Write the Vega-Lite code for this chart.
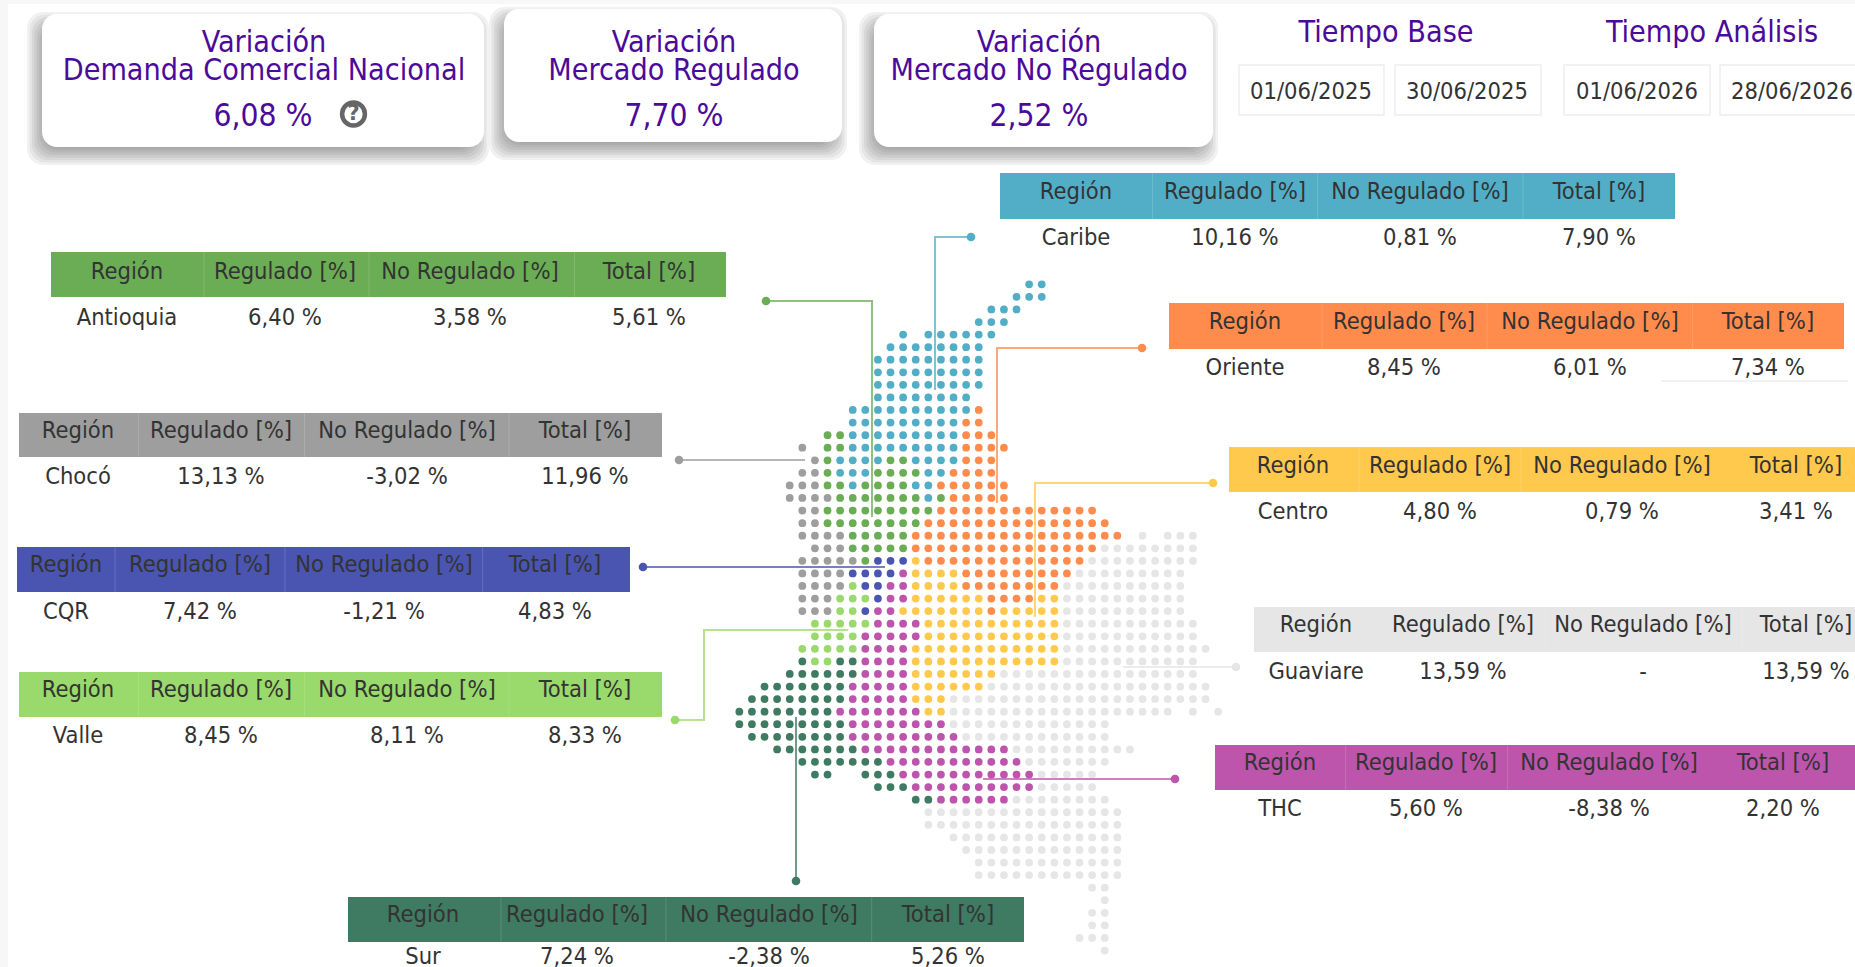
{"$schema":"https://vega.github.io/schema/vega-lite/v6.json","width":1855,"height":967,"padding":0,"autosize":{"type":"none"},"background":"#ffffff","view":{"stroke":null},
"datasets":{
"blocks":[{"x":0,"x2":8,"y":0,"y2":967},{"x":0,"x2":1855,"y":0,"y2":4}],
"shadows":[{"x":27,"x2":489,"y":12,"y2":165},{"x":29.5,"x2":486.5,"y":14.5,"y2":162.5},{"x":32,"x2":484,"y":17,"y2":160},{"x":34.5,"x2":481.5,"y":19.5,"y2":157.5},{"x":37,"x2":479,"y":22,"y2":155},{"x":39.5,"x2":476.5,"y":24.5,"y2":152.5},{"x":42,"x2":474,"y":27,"y2":150},{"x":44.5,"x2":471.5,"y":29.5,"y2":147.5},{"x":489,"x2":847,"y":7,"y2":160},{"x":491.5,"x2":844.5,"y":9.5,"y2":157.5},{"x":494,"x2":842,"y":12,"y2":155},{"x":496.5,"x2":839.5,"y":14.5,"y2":152.5},{"x":499,"x2":837,"y":17,"y2":150},{"x":501.5,"x2":834.5,"y":19.5,"y2":147.5},{"x":504,"x2":832,"y":22,"y2":145},{"x":506.5,"x2":829.5,"y":24.5,"y2":142.5},{"x":859,"x2":1218,"y":12,"y2":165},{"x":861.5,"x2":1215.5,"y":14.5,"y2":162.5},{"x":864,"x2":1213,"y":17,"y2":160},{"x":866.5,"x2":1210.5,"y":19.5,"y2":157.5},{"x":869,"x2":1208,"y":22,"y2":155},{"x":871.5,"x2":1205.5,"y":24.5,"y2":152.5},{"x":874,"x2":1203,"y":27,"y2":150},{"x":876.5,"x2":1200.5,"y":29.5,"y2":147.5}],
"cards":[{"x":42,"x2":484,"y":14,"y2":147},{"x":504,"x2":842,"y":9,"y2":142},{"x":874,"x2":1213,"y":14,"y2":147}],
"dateBoxes":[{"x":1239,"x2":1384,"y":65,"y2":115},{"x":1395,"x2":1541,"y":65,"y2":115},{"x":1564,"x2":1710,"y":65,"y2":115},{"x":1720,"x2":1858,"y":65,"y2":115}],
"headers":[{"region":"Caribe","x":1000,"x2":1675,"y":173,"y2":219},{"region":"Antioquia","x":51,"x2":726,"y":252,"y2":297},{"region":"Oriente","x":1169,"x2":1844,"y":303,"y2":349},{"region":"Chocó","x":19,"x2":662,"y":413,"y2":457},{"region":"CQR","x":17,"x2":630,"y":547,"y2":592},{"region":"Valle","x":19,"x2":662,"y":672,"y2":717},{"region":"Centro","x":1229,"x2":1855,"y":447,"y2":492},{"region":"Guaviare","x":1254,"x2":1855,"y":607,"y2":652},{"region":"THC","x":1215,"x2":1855,"y":745,"y2":790},{"region":"Sur","x":348,"x2":1024,"y":897,"y2":942}],
"separators":[{"x":1152.5,"y":173,"y2":219},{"x":1317.5,"y":173,"y2":219},{"x":1523,"y":173,"y2":219},{"x":204,"y":252,"y2":297},{"x":369,"y":252,"y2":297},{"x":574.5,"y":252,"y2":297},{"x":1322,"y":303,"y2":349},{"x":1487,"y":303,"y2":349},{"x":1692.5,"y":303,"y2":349},{"x":138.4,"y":413,"y2":457},{"x":304.5,"y":413,"y2":457},{"x":509,"y":413,"y2":457},{"x":115,"y":547,"y2":592},{"x":285,"y":547,"y2":592},{"x":482.6,"y":547,"y2":592},{"x":138.4,"y":672,"y2":717},{"x":304.5,"y":672,"y2":717},{"x":509,"y":672,"y2":717},{"x":1359,"y":447,"y2":492},{"x":1521,"y":447,"y2":492},{"x":1381,"y":607,"y2":652},{"x":1545,"y":607,"y2":652},{"x":1741.7,"y":607,"y2":652},{"x":1345.6,"y":745,"y2":790},{"x":1507.6,"y":745,"y2":790},{"x":501,"y":897,"y2":942},{"x":666,"y":897,"y2":942},{"x":871.7,"y":897,"y2":942}],
"leaders":[{"region":"Caribe","i":0,"x":971,"y":237},{"region":"Caribe","i":1,"x":935,"y":237},{"region":"Caribe","i":2,"x":935,"y":390},{"region":"Antioquia","i":0,"x":766,"y":301},{"region":"Antioquia","i":1,"x":872,"y":301},{"region":"Antioquia","i":2,"x":872,"y":517},{"region":"Oriente","i":0,"x":1142,"y":348},{"region":"Oriente","i":1,"x":997,"y":348},{"region":"Oriente","i":2,"x":997,"y":503},{"region":"Centro","i":0,"x":1213,"y":483},{"region":"Centro","i":1,"x":1035,"y":483},{"region":"Centro","i":2,"x":1035,"y":617},{"region":"Chocó","i":0,"x":679,"y":460},{"region":"Chocó","i":1,"x":805,"y":460},{"region":"CQR","i":0,"x":643,"y":567},{"region":"CQR","i":1,"x":885,"y":567},{"region":"Valle","i":0,"x":675,"y":720},{"region":"Valle","i":1,"x":704,"y":720},{"region":"Valle","i":2,"x":704,"y":630},{"region":"Valle","i":3,"x":848,"y":630},{"region":"Guaviare","i":0,"x":1236,"y":667},{"region":"Guaviare","i":1,"x":1123,"y":667},{"region":"THC","i":0,"x":1175,"y":779},{"region":"THC","i":1,"x":983,"y":779},{"region":"Sur","i":0,"x":796,"y":881},{"region":"Sur","i":1,"x":796,"y":717}],
"cells":[
{"t":"Región","x":1076,"y":192},{"t":"Regulado [%]","x":1235,"y":192},{"t":"No Regulado [%]","x":1420,"y":192},{"t":"Total [%]","x":1599,"y":192},{"t":"Caribe","x":1076,"y":238},{"t":"10,16 %","x":1235,"y":238},{"t":"0,81 %","x":1420,"y":238},{"t":"7,90 %","x":1599,"y":238},
{"t":"Región","x":127,"y":272},{"t":"Regulado [%]","x":285,"y":272},{"t":"No Regulado [%]","x":470,"y":272},{"t":"Total [%]","x":649,"y":272},{"t":"Antioquia","x":127,"y":318},{"t":"6,40 %","x":285,"y":318},{"t":"3,58 %","x":470,"y":318},{"t":"5,61 %","x":649,"y":318},
{"t":"Región","x":1245,"y":322},{"t":"Regulado [%]","x":1404,"y":322},{"t":"No Regulado [%]","x":1590,"y":322},{"t":"Total [%]","x":1768,"y":322},{"t":"Oriente","x":1245,"y":368},{"t":"8,45 %","x":1404,"y":368},{"t":"6,01 %","x":1590,"y":368},{"t":"7,34 %","x":1768,"y":368},
{"t":"Región","x":78,"y":431},{"t":"Regulado [%]","x":221,"y":431},{"t":"No Regulado [%]","x":407,"y":431},{"t":"Total [%]","x":585,"y":431},{"t":"Chocó","x":78,"y":477},{"t":"13,13 %","x":221,"y":477},{"t":"-3,02 %","x":407,"y":477},{"t":"11,96 %","x":585,"y":477},
{"t":"Región","x":66,"y":565},{"t":"Regulado [%]","x":200,"y":565},{"t":"No Regulado [%]","x":384,"y":565},{"t":"Total [%]","x":555,"y":565},{"t":"CQR","x":66,"y":612},{"t":"7,42 %","x":200,"y":612},{"t":"-1,21 %","x":384,"y":612},{"t":"4,83 %","x":555,"y":612},
{"t":"Región","x":78,"y":690},{"t":"Regulado [%]","x":221,"y":690},{"t":"No Regulado [%]","x":407,"y":690},{"t":"Total [%]","x":585,"y":690},{"t":"Valle","x":78,"y":736},{"t":"8,45 %","x":221,"y":736},{"t":"8,11 %","x":407,"y":736},{"t":"8,33 %","x":585,"y":736},
{"t":"Región","x":1293,"y":466},{"t":"Regulado [%]","x":1440,"y":466},{"t":"No Regulado [%]","x":1622,"y":466},{"t":"Total [%]","x":1796,"y":466},{"t":"Centro","x":1293,"y":512},{"t":"4,80 %","x":1440,"y":512},{"t":"0,79 %","x":1622,"y":512},{"t":"3,41 %","x":1796,"y":512},
{"t":"Región","x":1316,"y":625},{"t":"Regulado [%]","x":1463,"y":625},{"t":"No Regulado [%]","x":1643,"y":625},{"t":"Total [%]","x":1806,"y":625},{"t":"Guaviare","x":1316,"y":672},{"t":"13,59 %","x":1463,"y":672},{"t":"-","x":1643,"y":672},{"t":"13,59 %","x":1806,"y":672},
{"t":"Región","x":1280,"y":763},{"t":"Regulado [%]","x":1426,"y":763},{"t":"No Regulado [%]","x":1609,"y":763},{"t":"Total [%]","x":1783,"y":763},{"t":"THC","x":1280,"y":809},{"t":"5,60 %","x":1426,"y":809},{"t":"-8,38 %","x":1609,"y":809},{"t":"2,20 %","x":1783,"y":809},
{"t":"Región","x":423,"y":915},{"t":"Regulado [%]","x":577,"y":915},{"t":"No Regulado [%]","x":769,"y":915},{"t":"Total [%]","x":948,"y":915},{"t":"Sur","x":423,"y":957},{"t":"7,24 %","x":577,"y":957},{"t":"-2,38 %","x":769,"y":957},{"t":"5,26 %","x":948,"y":957},
{"t":"01/06/2025","x":1311,"y":92},{"t":"30/06/2025","x":1467,"y":92},{"t":"01/06/2026","x":1637,"y":92},{"t":"28/06/2026","x":1792,"y":92}],
"purple":[{"t":"Variación","x":264,"y":43},{"t":"Demanda Comercial Nacional","x":264,"y":71},{"t":"Variación","x":674,"y":43},{"t":"Mercado Regulado","x":674,"y":71},{"t":"Variación","x":1039,"y":43},{"t":"Mercado No Regulado","x":1039,"y":71},{"t":"Tiempo Base","x":1386,"y":33},{"t":"Tiempo Análisis","x":1712,"y":33}],
"kpis":[{"t":"6,08 %","x":263,"y":117},{"t":"7,70 %","x":674,"y":117},{"t":"2,52 %","x":1039,"y":117}],
"dots":[
{"c":23,"r":0,"region":"Caribe"},{"c":24,"r":0,"region":"Caribe"},
{"c":22,"r":1,"region":"Caribe"},{"c":23,"r":1,"region":"Caribe"},{"c":24,"r":1,"region":"Caribe"},
{"c":20,"r":2,"region":"Caribe"},{"c":21,"r":2,"region":"Caribe"},{"c":22,"r":2,"region":"Caribe"},
{"c":19,"r":3,"region":"Caribe"},{"c":20,"r":3,"region":"Caribe"},{"c":21,"r":3,"region":"Caribe"},
{"c":13,"r":4,"region":"Caribe"},{"c":15,"r":4,"region":"Caribe"},{"c":16,"r":4,"region":"Caribe"},{"c":17,"r":4,"region":"Caribe"},{"c":18,"r":4,"region":"Caribe"},{"c":19,"r":4,"region":"Caribe"},{"c":20,"r":4,"region":"Caribe"},
{"c":12,"r":5,"region":"Caribe"},{"c":13,"r":5,"region":"Caribe"},{"c":14,"r":5,"region":"Caribe"},{"c":15,"r":5,"region":"Caribe"},{"c":16,"r":5,"region":"Caribe"},{"c":17,"r":5,"region":"Caribe"},{"c":18,"r":5,"region":"Caribe"},{"c":19,"r":5,"region":"Caribe"},
{"c":11,"r":6,"region":"Caribe"},{"c":12,"r":6,"region":"Caribe"},{"c":13,"r":6,"region":"Caribe"},{"c":14,"r":6,"region":"Caribe"},{"c":15,"r":6,"region":"Caribe"},{"c":16,"r":6,"region":"Caribe"},{"c":17,"r":6,"region":"Caribe"},{"c":18,"r":6,"region":"Caribe"},{"c":19,"r":6,"region":"Caribe"},
{"c":11,"r":7,"region":"Caribe"},{"c":12,"r":7,"region":"Caribe"},{"c":13,"r":7,"region":"Caribe"},{"c":14,"r":7,"region":"Caribe"},{"c":15,"r":7,"region":"Caribe"},{"c":16,"r":7,"region":"Caribe"},{"c":17,"r":7,"region":"Caribe"},{"c":18,"r":7,"region":"Caribe"},{"c":19,"r":7,"region":"Caribe"},
{"c":11,"r":8,"region":"Caribe"},{"c":12,"r":8,"region":"Caribe"},{"c":13,"r":8,"region":"Caribe"},{"c":14,"r":8,"region":"Caribe"},{"c":15,"r":8,"region":"Caribe"},{"c":16,"r":8,"region":"Caribe"},{"c":17,"r":8,"region":"Caribe"},{"c":18,"r":8,"region":"Caribe"},{"c":19,"r":8,"region":"Caribe"},
{"c":11,"r":9,"region":"Caribe"},{"c":12,"r":9,"region":"Caribe"},{"c":13,"r":9,"region":"Caribe"},{"c":14,"r":9,"region":"Caribe"},{"c":15,"r":9,"region":"Caribe"},{"c":16,"r":9,"region":"Caribe"},{"c":17,"r":9,"region":"Caribe"},{"c":18,"r":9,"region":"Caribe"},
{"c":9,"r":10,"region":"Caribe"},{"c":10,"r":10,"region":"Caribe"},{"c":11,"r":10,"region":"Caribe"},{"c":12,"r":10,"region":"Caribe"},{"c":13,"r":10,"region":"Caribe"},{"c":14,"r":10,"region":"Caribe"},{"c":15,"r":10,"region":"Caribe"},{"c":16,"r":10,"region":"Caribe"},{"c":17,"r":10,"region":"Caribe"},{"c":18,"r":10,"region":"Caribe"},{"c":19,"r":10,"region":"Oriente"},
{"c":9,"r":11,"region":"Caribe"},{"c":10,"r":11,"region":"Caribe"},{"c":11,"r":11,"region":"Caribe"},{"c":12,"r":11,"region":"Caribe"},{"c":13,"r":11,"region":"Caribe"},{"c":14,"r":11,"region":"Caribe"},{"c":15,"r":11,"region":"Caribe"},{"c":16,"r":11,"region":"Caribe"},{"c":17,"r":11,"region":"Caribe"},{"c":18,"r":11,"region":"Oriente"},{"c":19,"r":11,"region":"Oriente"},
{"c":7,"r":12,"region":"Antioquia"},{"c":8,"r":12,"region":"Antioquia"},{"c":9,"r":12,"region":"Caribe"},{"c":10,"r":12,"region":"Caribe"},{"c":11,"r":12,"region":"Caribe"},{"c":12,"r":12,"region":"Caribe"},{"c":13,"r":12,"region":"Caribe"},{"c":14,"r":12,"region":"Caribe"},{"c":15,"r":12,"region":"Caribe"},{"c":16,"r":12,"region":"Caribe"},{"c":17,"r":12,"region":"Caribe"},{"c":18,"r":12,"region":"Oriente"},{"c":19,"r":12,"region":"Oriente"},{"c":20,"r":12,"region":"Oriente"},
{"c":5,"r":13,"region":"Chocó"},{"c":7,"r":13,"region":"Antioquia"},{"c":8,"r":13,"region":"Antioquia"},{"c":9,"r":13,"region":"Caribe"},{"c":10,"r":13,"region":"Caribe"},{"c":11,"r":13,"region":"Caribe"},{"c":12,"r":13,"region":"Caribe"},{"c":13,"r":13,"region":"Caribe"},{"c":14,"r":13,"region":"Caribe"},{"c":15,"r":13,"region":"Caribe"},{"c":16,"r":13,"region":"Caribe"},{"c":17,"r":13,"region":"Caribe"},{"c":18,"r":13,"region":"Oriente"},{"c":19,"r":13,"region":"Oriente"},{"c":20,"r":13,"region":"Oriente"},{"c":21,"r":13,"region":"Oriente"},
{"c":6,"r":14,"region":"Chocó"},{"c":7,"r":14,"region":"Antioquia"},{"c":8,"r":14,"region":"Caribe"},{"c":9,"r":14,"region":"Caribe"},{"c":10,"r":14,"region":"Caribe"},{"c":11,"r":14,"region":"Caribe"},{"c":12,"r":14,"region":"Antioquia"},{"c":13,"r":14,"region":"Antioquia"},{"c":14,"r":14,"region":"Caribe"},{"c":15,"r":14,"region":"Caribe"},{"c":16,"r":14,"region":"Caribe"},{"c":17,"r":14,"region":"Caribe"},{"c":18,"r":14,"region":"Oriente"},{"c":19,"r":14,"region":"Oriente"},{"c":20,"r":14,"region":"Oriente"},
{"c":5,"r":15,"region":"Chocó"},{"c":6,"r":15,"region":"Chocó"},{"c":7,"r":15,"region":"Antioquia"},{"c":8,"r":15,"region":"Caribe"},{"c":9,"r":15,"region":"Caribe"},{"c":10,"r":15,"region":"Caribe"},{"c":11,"r":15,"region":"Antioquia"},{"c":12,"r":15,"region":"Antioquia"},{"c":13,"r":15,"region":"Antioquia"},{"c":14,"r":15,"region":"Antioquia"},{"c":15,"r":15,"region":"Caribe"},{"c":16,"r":15,"region":"Caribe"},{"c":17,"r":15,"region":"Oriente"},{"c":18,"r":15,"region":"Oriente"},{"c":19,"r":15,"region":"Oriente"},{"c":20,"r":15,"region":"Oriente"},
{"c":4,"r":16,"region":"Chocó"},{"c":5,"r":16,"region":"Chocó"},{"c":6,"r":16,"region":"Chocó"},{"c":7,"r":16,"region":"Antioquia"},{"c":8,"r":16,"region":"Antioquia"},{"c":9,"r":16,"region":"Caribe"},{"c":10,"r":16,"region":"Antioquia"},{"c":11,"r":16,"region":"Antioquia"},{"c":12,"r":16,"region":"Antioquia"},{"c":13,"r":16,"region":"Antioquia"},{"c":14,"r":16,"region":"Caribe"},{"c":15,"r":16,"region":"Caribe"},{"c":16,"r":16,"region":"Oriente"},{"c":17,"r":16,"region":"Oriente"},{"c":18,"r":16,"region":"Oriente"},{"c":19,"r":16,"region":"Oriente"},{"c":20,"r":16,"region":"Oriente"},{"c":21,"r":16,"region":"Oriente"},
{"c":4,"r":17,"region":"Chocó"},{"c":5,"r":17,"region":"Chocó"},{"c":6,"r":17,"region":"Chocó"},{"c":7,"r":17,"region":"Chocó"},{"c":8,"r":17,"region":"Antioquia"},{"c":9,"r":17,"region":"Antioquia"},{"c":10,"r":17,"region":"Antioquia"},{"c":11,"r":17,"region":"Antioquia"},{"c":12,"r":17,"region":"Antioquia"},{"c":13,"r":17,"region":"Antioquia"},{"c":14,"r":17,"region":"Antioquia"},{"c":15,"r":17,"region":"Caribe"},{"c":16,"r":17,"region":"Antioquia"},{"c":17,"r":17,"region":"Oriente"},{"c":18,"r":17,"region":"Oriente"},{"c":19,"r":17,"region":"Oriente"},{"c":20,"r":17,"region":"Oriente"},{"c":21,"r":17,"region":"Oriente"},
{"c":5,"r":18,"region":"Chocó"},{"c":6,"r":18,"region":"Chocó"},{"c":7,"r":18,"region":"Antioquia"},{"c":8,"r":18,"region":"Antioquia"},{"c":9,"r":18,"region":"Antioquia"},{"c":10,"r":18,"region":"Antioquia"},{"c":11,"r":18,"region":"Antioquia"},{"c":12,"r":18,"region":"Antioquia"},{"c":13,"r":18,"region":"Antioquia"},{"c":14,"r":18,"region":"Antioquia"},{"c":15,"r":18,"region":"Antioquia"},{"c":16,"r":18,"region":"Oriente"},{"c":17,"r":18,"region":"Oriente"},{"c":18,"r":18,"region":"Oriente"},{"c":19,"r":18,"region":"Oriente"},{"c":20,"r":18,"region":"Oriente"},{"c":21,"r":18,"region":"Oriente"},{"c":22,"r":18,"region":"Oriente"},{"c":23,"r":18,"region":"Oriente"},{"c":24,"r":18,"region":"Oriente"},{"c":25,"r":18,"region":"Oriente"},{"c":26,"r":18,"region":"Oriente"},{"c":27,"r":18,"region":"Oriente"},{"c":28,"r":18,"region":"Oriente"},
{"c":5,"r":19,"region":"Chocó"},{"c":6,"r":19,"region":"Chocó"},{"c":7,"r":19,"region":"Antioquia"},{"c":8,"r":19,"region":"Antioquia"},{"c":9,"r":19,"region":"Antioquia"},{"c":10,"r":19,"region":"Antioquia"},{"c":11,"r":19,"region":"Antioquia"},{"c":12,"r":19,"region":"Antioquia"},{"c":13,"r":19,"region":"Antioquia"},{"c":14,"r":19,"region":"Antioquia"},{"c":15,"r":19,"region":"Oriente"},{"c":16,"r":19,"region":"Oriente"},{"c":17,"r":19,"region":"Oriente"},{"c":18,"r":19,"region":"Oriente"},{"c":19,"r":19,"region":"Oriente"},{"c":20,"r":19,"region":"Oriente"},{"c":21,"r":19,"region":"Oriente"},{"c":22,"r":19,"region":"Oriente"},{"c":23,"r":19,"region":"Oriente"},{"c":24,"r":19,"region":"Oriente"},{"c":25,"r":19,"region":"Oriente"},{"c":26,"r":19,"region":"Oriente"},{"c":27,"r":19,"region":"Oriente"},{"c":28,"r":19,"region":"Oriente"},{"c":29,"r":19,"region":"Oriente"},
{"c":5,"r":20,"region":"Chocó"},{"c":6,"r":20,"region":"Chocó"},{"c":7,"r":20,"region":"Chocó"},{"c":8,"r":20,"region":"Chocó"},{"c":9,"r":20,"region":"Antioquia"},{"c":10,"r":20,"region":"Antioquia"},{"c":11,"r":20,"region":"Antioquia"},{"c":12,"r":20,"region":"Antioquia"},{"c":13,"r":20,"region":"Antioquia"},{"c":14,"r":20,"region":"Oriente"},{"c":15,"r":20,"region":"Oriente"},{"c":16,"r":20,"region":"Oriente"},{"c":17,"r":20,"region":"Oriente"},{"c":18,"r":20,"region":"Oriente"},{"c":19,"r":20,"region":"Oriente"},{"c":20,"r":20,"region":"Oriente"},{"c":21,"r":20,"region":"Oriente"},{"c":22,"r":20,"region":"Oriente"},{"c":23,"r":20,"region":"Oriente"},{"c":24,"r":20,"region":"Oriente"},{"c":25,"r":20,"region":"Oriente"},{"c":26,"r":20,"region":"Oriente"},{"c":27,"r":20,"region":"Oriente"},{"c":28,"r":20,"region":"Oriente"},{"c":29,"r":20,"region":"Oriente"},{"c":30,"r":20,"region":"Oriente"},{"c":32,"r":20,"region":"Guaviare"},{"c":34,"r":20,"region":"Guaviare"},{"c":35,"r":20,"region":"Guaviare"},{"c":36,"r":20,"region":"Guaviare"},
{"c":6,"r":21,"region":"Chocó"},{"c":7,"r":21,"region":"Chocó"},{"c":8,"r":21,"region":"Chocó"},{"c":9,"r":21,"region":"Antioquia"},{"c":10,"r":21,"region":"Antioquia"},{"c":11,"r":21,"region":"Antioquia"},{"c":12,"r":21,"region":"Antioquia"},{"c":13,"r":21,"region":"Antioquia"},{"c":14,"r":21,"region":"Oriente"},{"c":15,"r":21,"region":"Oriente"},{"c":16,"r":21,"region":"Oriente"},{"c":17,"r":21,"region":"Oriente"},{"c":18,"r":21,"region":"Oriente"},{"c":19,"r":21,"region":"Oriente"},{"c":20,"r":21,"region":"Oriente"},{"c":21,"r":21,"region":"Oriente"},{"c":22,"r":21,"region":"Oriente"},{"c":23,"r":21,"region":"Oriente"},{"c":24,"r":21,"region":"Oriente"},{"c":25,"r":21,"region":"Oriente"},{"c":26,"r":21,"region":"Oriente"},{"c":27,"r":21,"region":"Oriente"},{"c":28,"r":21,"region":"Oriente"},{"c":29,"r":21,"region":"Guaviare"},{"c":30,"r":21,"region":"Guaviare"},{"c":31,"r":21,"region":"Guaviare"},{"c":32,"r":21,"region":"Guaviare"},{"c":33,"r":21,"region":"Guaviare"},{"c":34,"r":21,"region":"Guaviare"},{"c":35,"r":21,"region":"Guaviare"},{"c":36,"r":21,"region":"Guaviare"},
{"c":5,"r":22,"region":"Chocó"},{"c":6,"r":22,"region":"Chocó"},{"c":7,"r":22,"region":"Chocó"},{"c":8,"r":22,"region":"Chocó"},{"c":9,"r":22,"region":"Chocó"},{"c":10,"r":22,"region":"Antioquia"},{"c":11,"r":22,"region":"CQR"},{"c":12,"r":22,"region":"CQR"},{"c":13,"r":22,"region":"CQR"},{"c":14,"r":22,"region":"Centro"},{"c":15,"r":22,"region":"Oriente"},{"c":16,"r":22,"region":"Oriente"},{"c":17,"r":22,"region":"Oriente"},{"c":18,"r":22,"region":"Oriente"},{"c":19,"r":22,"region":"Oriente"},{"c":20,"r":22,"region":"Oriente"},{"c":21,"r":22,"region":"Oriente"},{"c":22,"r":22,"region":"Oriente"},{"c":23,"r":22,"region":"Oriente"},{"c":24,"r":22,"region":"Oriente"},{"c":25,"r":22,"region":"Oriente"},{"c":26,"r":22,"region":"Oriente"},{"c":27,"r":22,"region":"Oriente"},{"c":28,"r":22,"region":"Guaviare"},{"c":29,"r":22,"region":"Guaviare"},{"c":30,"r":22,"region":"Guaviare"},{"c":31,"r":22,"region":"Guaviare"},{"c":32,"r":22,"region":"Guaviare"},{"c":33,"r":22,"region":"Guaviare"},{"c":34,"r":22,"region":"Guaviare"},{"c":35,"r":22,"region":"Guaviare"},{"c":36,"r":22,"region":"Guaviare"},
{"c":5,"r":23,"region":"Chocó"},{"c":6,"r":23,"region":"Chocó"},{"c":7,"r":23,"region":"Chocó"},{"c":8,"r":23,"region":"Chocó"},{"c":9,"r":23,"region":"CQR"},{"c":10,"r":23,"region":"CQR"},{"c":11,"r":23,"region":"CQR"},{"c":12,"r":23,"region":"CQR"},{"c":13,"r":23,"region":"THC"},{"c":14,"r":23,"region":"Centro"},{"c":15,"r":23,"region":"Centro"},{"c":16,"r":23,"region":"Centro"},{"c":17,"r":23,"region":"Centro"},{"c":18,"r":23,"region":"Oriente"},{"c":19,"r":23,"region":"Oriente"},{"c":20,"r":23,"region":"Oriente"},{"c":21,"r":23,"region":"Oriente"},{"c":22,"r":23,"region":"Oriente"},{"c":23,"r":23,"region":"Oriente"},{"c":24,"r":23,"region":"Oriente"},{"c":25,"r":23,"region":"Oriente"},{"c":26,"r":23,"region":"Oriente"},{"c":27,"r":23,"region":"Guaviare"},{"c":28,"r":23,"region":"Guaviare"},{"c":29,"r":23,"region":"Guaviare"},{"c":30,"r":23,"region":"Guaviare"},{"c":31,"r":23,"region":"Guaviare"},{"c":32,"r":23,"region":"Guaviare"},{"c":33,"r":23,"region":"Guaviare"},{"c":34,"r":23,"region":"Guaviare"},{"c":35,"r":23,"region":"Guaviare"},
{"c":5,"r":24,"region":"Chocó"},{"c":6,"r":24,"region":"Chocó"},{"c":7,"r":24,"region":"Chocó"},{"c":8,"r":24,"region":"Chocó"},{"c":9,"r":24,"region":"Valle"},{"c":10,"r":24,"region":"CQR"},{"c":11,"r":24,"region":"CQR"},{"c":12,"r":24,"region":"THC"},{"c":13,"r":24,"region":"THC"},{"c":14,"r":24,"region":"Centro"},{"c":15,"r":24,"region":"Centro"},{"c":16,"r":24,"region":"Centro"},{"c":17,"r":24,"region":"Centro"},{"c":18,"r":24,"region":"Oriente"},{"c":19,"r":24,"region":"Oriente"},{"c":20,"r":24,"region":"Oriente"},{"c":21,"r":24,"region":"Oriente"},{"c":22,"r":24,"region":"Oriente"},{"c":23,"r":24,"region":"Oriente"},{"c":24,"r":24,"region":"Oriente"},{"c":25,"r":24,"region":"Oriente"},{"c":26,"r":24,"region":"Guaviare"},{"c":27,"r":24,"region":"Guaviare"},{"c":28,"r":24,"region":"Guaviare"},{"c":29,"r":24,"region":"Guaviare"},{"c":30,"r":24,"region":"Guaviare"},{"c":31,"r":24,"region":"Guaviare"},{"c":32,"r":24,"region":"Guaviare"},{"c":33,"r":24,"region":"Guaviare"},{"c":34,"r":24,"region":"Guaviare"},{"c":35,"r":24,"region":"Guaviare"},
{"c":5,"r":25,"region":"Chocó"},{"c":6,"r":25,"region":"Chocó"},{"c":7,"r":25,"region":"Chocó"},{"c":8,"r":25,"region":"Valle"},{"c":9,"r":25,"region":"Valle"},{"c":10,"r":25,"region":"Valle"},{"c":11,"r":25,"region":"CQR"},{"c":12,"r":25,"region":"THC"},{"c":13,"r":25,"region":"THC"},{"c":14,"r":25,"region":"Centro"},{"c":15,"r":25,"region":"Centro"},{"c":16,"r":25,"region":"Centro"},{"c":17,"r":25,"region":"Centro"},{"c":18,"r":25,"region":"Centro"},{"c":19,"r":25,"region":"Centro"},{"c":20,"r":25,"region":"Oriente"},{"c":21,"r":25,"region":"Oriente"},{"c":22,"r":25,"region":"Oriente"},{"c":23,"r":25,"region":"Oriente"},{"c":24,"r":25,"region":"Centro"},{"c":25,"r":25,"region":"Centro"},{"c":26,"r":25,"region":"Guaviare"},{"c":27,"r":25,"region":"Guaviare"},{"c":28,"r":25,"region":"Guaviare"},{"c":29,"r":25,"region":"Guaviare"},{"c":30,"r":25,"region":"Guaviare"},{"c":31,"r":25,"region":"Guaviare"},{"c":32,"r":25,"region":"Guaviare"},{"c":33,"r":25,"region":"Guaviare"},{"c":34,"r":25,"region":"Guaviare"},{"c":35,"r":25,"region":"Guaviare"},
{"c":5,"r":26,"region":"Chocó"},{"c":6,"r":26,"region":"Chocó"},{"c":7,"r":26,"region":"Chocó"},{"c":8,"r":26,"region":"Valle"},{"c":9,"r":26,"region":"Valle"},{"c":10,"r":26,"region":"CQR"},{"c":11,"r":26,"region":"THC"},{"c":12,"r":26,"region":"THC"},{"c":13,"r":26,"region":"Centro"},{"c":14,"r":26,"region":"Centro"},{"c":15,"r":26,"region":"Centro"},{"c":16,"r":26,"region":"Centro"},{"c":17,"r":26,"region":"Centro"},{"c":18,"r":26,"region":"Centro"},{"c":19,"r":26,"region":"Centro"},{"c":20,"r":26,"region":"Oriente"},{"c":21,"r":26,"region":"Centro"},{"c":22,"r":26,"region":"Centro"},{"c":23,"r":26,"region":"Centro"},{"c":24,"r":26,"region":"Centro"},{"c":25,"r":26,"region":"Centro"},{"c":26,"r":26,"region":"Guaviare"},{"c":27,"r":26,"region":"Guaviare"},{"c":28,"r":26,"region":"Guaviare"},{"c":29,"r":26,"region":"Guaviare"},{"c":30,"r":26,"region":"Guaviare"},{"c":31,"r":26,"region":"Guaviare"},{"c":32,"r":26,"region":"Guaviare"},{"c":33,"r":26,"region":"Guaviare"},{"c":34,"r":26,"region":"Guaviare"},{"c":35,"r":26,"region":"Guaviare"},
{"c":6,"r":27,"region":"Valle"},{"c":7,"r":27,"region":"Valle"},{"c":8,"r":27,"region":"Valle"},{"c":9,"r":27,"region":"Valle"},{"c":10,"r":27,"region":"Valle"},{"c":11,"r":27,"region":"THC"},{"c":12,"r":27,"region":"THC"},{"c":13,"r":27,"region":"THC"},{"c":14,"r":27,"region":"THC"},{"c":15,"r":27,"region":"Centro"},{"c":16,"r":27,"region":"Centro"},{"c":17,"r":27,"region":"Centro"},{"c":18,"r":27,"region":"Centro"},{"c":19,"r":27,"region":"Centro"},{"c":20,"r":27,"region":"Centro"},{"c":21,"r":27,"region":"Centro"},{"c":22,"r":27,"region":"Centro"},{"c":23,"r":27,"region":"Centro"},{"c":24,"r":27,"region":"Centro"},{"c":25,"r":27,"region":"Centro"},{"c":26,"r":27,"region":"Guaviare"},{"c":27,"r":27,"region":"Guaviare"},{"c":28,"r":27,"region":"Guaviare"},{"c":29,"r":27,"region":"Guaviare"},{"c":30,"r":27,"region":"Guaviare"},{"c":31,"r":27,"region":"Guaviare"},{"c":32,"r":27,"region":"Guaviare"},{"c":33,"r":27,"region":"Guaviare"},{"c":34,"r":27,"region":"Guaviare"},{"c":35,"r":27,"region":"Guaviare"},{"c":36,"r":27,"region":"Guaviare"},
{"c":6,"r":28,"region":"Valle"},{"c":7,"r":28,"region":"Valle"},{"c":8,"r":28,"region":"Valle"},{"c":9,"r":28,"region":"Valle"},{"c":10,"r":28,"region":"THC"},{"c":11,"r":28,"region":"THC"},{"c":12,"r":28,"region":"THC"},{"c":13,"r":28,"region":"THC"},{"c":14,"r":28,"region":"THC"},{"c":15,"r":28,"region":"Centro"},{"c":16,"r":28,"region":"Centro"},{"c":17,"r":28,"region":"Centro"},{"c":18,"r":28,"region":"Centro"},{"c":19,"r":28,"region":"Centro"},{"c":20,"r":28,"region":"Centro"},{"c":21,"r":28,"region":"Centro"},{"c":22,"r":28,"region":"Centro"},{"c":23,"r":28,"region":"Centro"},{"c":24,"r":28,"region":"Centro"},{"c":25,"r":28,"region":"Centro"},{"c":26,"r":28,"region":"Guaviare"},{"c":27,"r":28,"region":"Guaviare"},{"c":28,"r":28,"region":"Guaviare"},{"c":29,"r":28,"region":"Guaviare"},{"c":30,"r":28,"region":"Guaviare"},{"c":31,"r":28,"region":"Guaviare"},{"c":32,"r":28,"region":"Guaviare"},{"c":33,"r":28,"region":"Guaviare"},{"c":34,"r":28,"region":"Guaviare"},{"c":35,"r":28,"region":"Guaviare"},{"c":36,"r":28,"region":"Guaviare"},
{"c":5,"r":29,"region":"Valle"},{"c":6,"r":29,"region":"Valle"},{"c":7,"r":29,"region":"Valle"},{"c":8,"r":29,"region":"Valle"},{"c":9,"r":29,"region":"Valle"},{"c":10,"r":29,"region":"THC"},{"c":11,"r":29,"region":"THC"},{"c":12,"r":29,"region":"THC"},{"c":13,"r":29,"region":"THC"},{"c":14,"r":29,"region":"Centro"},{"c":15,"r":29,"region":"Centro"},{"c":16,"r":29,"region":"Centro"},{"c":17,"r":29,"region":"Centro"},{"c":18,"r":29,"region":"Centro"},{"c":19,"r":29,"region":"Centro"},{"c":20,"r":29,"region":"Centro"},{"c":21,"r":29,"region":"Centro"},{"c":22,"r":29,"region":"Centro"},{"c":23,"r":29,"region":"Centro"},{"c":24,"r":29,"region":"Centro"},{"c":25,"r":29,"region":"Centro"},{"c":26,"r":29,"region":"Guaviare"},{"c":27,"r":29,"region":"Guaviare"},{"c":28,"r":29,"region":"Guaviare"},{"c":29,"r":29,"region":"Guaviare"},{"c":30,"r":29,"region":"Guaviare"},{"c":31,"r":29,"region":"Guaviare"},{"c":32,"r":29,"region":"Guaviare"},{"c":33,"r":29,"region":"Guaviare"},{"c":34,"r":29,"region":"Guaviare"},{"c":35,"r":29,"region":"Guaviare"},{"c":36,"r":29,"region":"Guaviare"},{"c":37,"r":29,"region":"Guaviare"},
{"c":5,"r":30,"region":"Sur"},{"c":6,"r":30,"region":"Valle"},{"c":7,"r":30,"region":"Valle"},{"c":8,"r":30,"region":"Sur"},{"c":9,"r":30,"region":"Sur"},{"c":10,"r":30,"region":"THC"},{"c":11,"r":30,"region":"THC"},{"c":12,"r":30,"region":"THC"},{"c":13,"r":30,"region":"THC"},{"c":14,"r":30,"region":"Centro"},{"c":15,"r":30,"region":"Centro"},{"c":16,"r":30,"region":"Centro"},{"c":17,"r":30,"region":"Centro"},{"c":18,"r":30,"region":"Centro"},{"c":19,"r":30,"region":"Centro"},{"c":20,"r":30,"region":"Centro"},{"c":21,"r":30,"region":"Centro"},{"c":22,"r":30,"region":"Centro"},{"c":23,"r":30,"region":"Centro"},{"c":24,"r":30,"region":"Centro"},{"c":25,"r":30,"region":"Centro"},{"c":26,"r":30,"region":"Guaviare"},{"c":27,"r":30,"region":"Guaviare"},{"c":28,"r":30,"region":"Guaviare"},{"c":29,"r":30,"region":"Guaviare"},{"c":30,"r":30,"region":"Guaviare"},{"c":31,"r":30,"region":"Guaviare"},{"c":32,"r":30,"region":"Guaviare"},{"c":33,"r":30,"region":"Guaviare"},{"c":34,"r":30,"region":"Guaviare"},{"c":35,"r":30,"region":"Guaviare"},{"c":36,"r":30,"region":"Guaviare"},
{"c":4,"r":31,"region":"Sur"},{"c":5,"r":31,"region":"Sur"},{"c":6,"r":31,"region":"Sur"},{"c":7,"r":31,"region":"Sur"},{"c":8,"r":31,"region":"Sur"},{"c":9,"r":31,"region":"Sur"},{"c":10,"r":31,"region":"THC"},{"c":11,"r":31,"region":"THC"},{"c":12,"r":31,"region":"THC"},{"c":13,"r":31,"region":"THC"},{"c":14,"r":31,"region":"Centro"},{"c":15,"r":31,"region":"Centro"},{"c":16,"r":31,"region":"Centro"},{"c":17,"r":31,"region":"Centro"},{"c":18,"r":31,"region":"Centro"},{"c":19,"r":31,"region":"Centro"},{"c":20,"r":31,"region":"Centro"},{"c":21,"r":31,"region":"Guaviare"},{"c":22,"r":31,"region":"Guaviare"},{"c":23,"r":31,"region":"Guaviare"},{"c":24,"r":31,"region":"Guaviare"},{"c":25,"r":31,"region":"Guaviare"},{"c":26,"r":31,"region":"Guaviare"},{"c":27,"r":31,"region":"Guaviare"},{"c":28,"r":31,"region":"Guaviare"},{"c":29,"r":31,"region":"Guaviare"},{"c":30,"r":31,"region":"Guaviare"},{"c":31,"r":31,"region":"Guaviare"},{"c":32,"r":31,"region":"Guaviare"},{"c":33,"r":31,"region":"Guaviare"},{"c":34,"r":31,"region":"Guaviare"},{"c":35,"r":31,"region":"Guaviare"},{"c":36,"r":31,"region":"Guaviare"},
{"c":2,"r":32,"region":"Sur"},{"c":3,"r":32,"region":"Sur"},{"c":4,"r":32,"region":"Sur"},{"c":5,"r":32,"region":"Sur"},{"c":6,"r":32,"region":"Sur"},{"c":7,"r":32,"region":"Sur"},{"c":8,"r":32,"region":"Sur"},{"c":9,"r":32,"region":"THC"},{"c":10,"r":32,"region":"THC"},{"c":11,"r":32,"region":"THC"},{"c":12,"r":32,"region":"THC"},{"c":13,"r":32,"region":"THC"},{"c":14,"r":32,"region":"Centro"},{"c":15,"r":32,"region":"Centro"},{"c":16,"r":32,"region":"Centro"},{"c":17,"r":32,"region":"Centro"},{"c":18,"r":32,"region":"Centro"},{"c":19,"r":32,"region":"Centro"},{"c":20,"r":32,"region":"Guaviare"},{"c":21,"r":32,"region":"Guaviare"},{"c":22,"r":32,"region":"Guaviare"},{"c":23,"r":32,"region":"Guaviare"},{"c":24,"r":32,"region":"Guaviare"},{"c":25,"r":32,"region":"Guaviare"},{"c":26,"r":32,"region":"Guaviare"},{"c":27,"r":32,"region":"Guaviare"},{"c":28,"r":32,"region":"Guaviare"},{"c":29,"r":32,"region":"Guaviare"},{"c":30,"r":32,"region":"Guaviare"},{"c":31,"r":32,"region":"Guaviare"},{"c":32,"r":32,"region":"Guaviare"},{"c":33,"r":32,"region":"Guaviare"},{"c":34,"r":32,"region":"Guaviare"},{"c":35,"r":32,"region":"Guaviare"},{"c":36,"r":32,"region":"Guaviare"},{"c":37,"r":32,"region":"Guaviare"},
{"c":1,"r":33,"region":"Sur"},{"c":2,"r":33,"region":"Sur"},{"c":3,"r":33,"region":"Sur"},{"c":4,"r":33,"region":"Sur"},{"c":5,"r":33,"region":"Sur"},{"c":6,"r":33,"region":"Sur"},{"c":7,"r":33,"region":"Sur"},{"c":8,"r":33,"region":"Sur"},{"c":9,"r":33,"region":"THC"},{"c":10,"r":33,"region":"THC"},{"c":11,"r":33,"region":"THC"},{"c":12,"r":33,"region":"THC"},{"c":13,"r":33,"region":"THC"},{"c":14,"r":33,"region":"Centro"},{"c":15,"r":33,"region":"Centro"},{"c":16,"r":33,"region":"Centro"},{"c":17,"r":33,"region":"Guaviare"},{"c":18,"r":33,"region":"Guaviare"},{"c":19,"r":33,"region":"Guaviare"},{"c":20,"r":33,"region":"Guaviare"},{"c":21,"r":33,"region":"Guaviare"},{"c":22,"r":33,"region":"Guaviare"},{"c":23,"r":33,"region":"Guaviare"},{"c":24,"r":33,"region":"Guaviare"},{"c":25,"r":33,"region":"Guaviare"},{"c":26,"r":33,"region":"Guaviare"},{"c":27,"r":33,"region":"Guaviare"},{"c":28,"r":33,"region":"Guaviare"},{"c":29,"r":33,"region":"Guaviare"},{"c":30,"r":33,"region":"Guaviare"},{"c":31,"r":33,"region":"Guaviare"},{"c":32,"r":33,"region":"Guaviare"},{"c":33,"r":33,"region":"Guaviare"},{"c":34,"r":33,"region":"Guaviare"},{"c":35,"r":33,"region":"Guaviare"},{"c":36,"r":33,"region":"Guaviare"},{"c":37,"r":33,"region":"Guaviare"},
{"c":0,"r":34,"region":"Sur"},{"c":1,"r":34,"region":"Sur"},{"c":2,"r":34,"region":"Sur"},{"c":3,"r":34,"region":"Sur"},{"c":4,"r":34,"region":"Sur"},{"c":5,"r":34,"region":"Sur"},{"c":6,"r":34,"region":"Sur"},{"c":7,"r":34,"region":"Sur"},{"c":8,"r":34,"region":"THC"},{"c":9,"r":34,"region":"THC"},{"c":10,"r":34,"region":"THC"},{"c":11,"r":34,"region":"THC"},{"c":12,"r":34,"region":"THC"},{"c":13,"r":34,"region":"THC"},{"c":14,"r":34,"region":"THC"},{"c":15,"r":34,"region":"Centro"},{"c":16,"r":34,"region":"Centro"},{"c":17,"r":34,"region":"Guaviare"},{"c":18,"r":34,"region":"Guaviare"},{"c":19,"r":34,"region":"Guaviare"},{"c":20,"r":34,"region":"Guaviare"},{"c":21,"r":34,"region":"Guaviare"},{"c":22,"r":34,"region":"Guaviare"},{"c":23,"r":34,"region":"Guaviare"},{"c":24,"r":34,"region":"Guaviare"},{"c":25,"r":34,"region":"Guaviare"},{"c":26,"r":34,"region":"Guaviare"},{"c":27,"r":34,"region":"Guaviare"},{"c":28,"r":34,"region":"Guaviare"},{"c":29,"r":34,"region":"Guaviare"},{"c":30,"r":34,"region":"Guaviare"},{"c":31,"r":34,"region":"Guaviare"},{"c":32,"r":34,"region":"Guaviare"},{"c":33,"r":34,"region":"Guaviare"},{"c":34,"r":34,"region":"Guaviare"},{"c":36,"r":34,"region":"Guaviare"},{"c":38,"r":34,"region":"Guaviare"},
{"c":0,"r":35,"region":"Sur"},{"c":1,"r":35,"region":"Sur"},{"c":2,"r":35,"region":"Sur"},{"c":3,"r":35,"region":"Sur"},{"c":4,"r":35,"region":"Sur"},{"c":5,"r":35,"region":"Sur"},{"c":6,"r":35,"region":"Sur"},{"c":7,"r":35,"region":"Sur"},{"c":8,"r":35,"region":"Sur"},{"c":9,"r":35,"region":"THC"},{"c":10,"r":35,"region":"THC"},{"c":11,"r":35,"region":"THC"},{"c":12,"r":35,"region":"THC"},{"c":13,"r":35,"region":"THC"},{"c":14,"r":35,"region":"THC"},{"c":15,"r":35,"region":"THC"},{"c":16,"r":35,"region":"THC"},{"c":17,"r":35,"region":"Guaviare"},{"c":18,"r":35,"region":"Guaviare"},{"c":19,"r":35,"region":"Guaviare"},{"c":20,"r":35,"region":"Guaviare"},{"c":21,"r":35,"region":"Guaviare"},{"c":22,"r":35,"region":"Guaviare"},{"c":23,"r":35,"region":"Guaviare"},{"c":24,"r":35,"region":"Guaviare"},{"c":25,"r":35,"region":"Guaviare"},{"c":26,"r":35,"region":"Guaviare"},{"c":27,"r":35,"region":"Guaviare"},{"c":28,"r":35,"region":"Guaviare"},{"c":29,"r":35,"region":"Guaviare"},
{"c":1,"r":36,"region":"Sur"},{"c":2,"r":36,"region":"Sur"},{"c":3,"r":36,"region":"Sur"},{"c":4,"r":36,"region":"Sur"},{"c":5,"r":36,"region":"Sur"},{"c":6,"r":36,"region":"Sur"},{"c":7,"r":36,"region":"Sur"},{"c":8,"r":36,"region":"Sur"},{"c":9,"r":36,"region":"THC"},{"c":10,"r":36,"region":"THC"},{"c":11,"r":36,"region":"THC"},{"c":12,"r":36,"region":"THC"},{"c":13,"r":36,"region":"THC"},{"c":14,"r":36,"region":"THC"},{"c":15,"r":36,"region":"THC"},{"c":16,"r":36,"region":"THC"},{"c":17,"r":36,"region":"THC"},{"c":18,"r":36,"region":"Guaviare"},{"c":19,"r":36,"region":"Guaviare"},{"c":20,"r":36,"region":"Guaviare"},{"c":21,"r":36,"region":"Guaviare"},{"c":22,"r":36,"region":"Guaviare"},{"c":23,"r":36,"region":"Guaviare"},{"c":24,"r":36,"region":"Guaviare"},{"c":25,"r":36,"region":"Guaviare"},{"c":26,"r":36,"region":"Guaviare"},{"c":27,"r":36,"region":"Guaviare"},{"c":28,"r":36,"region":"Guaviare"},{"c":29,"r":36,"region":"Guaviare"},
{"c":3,"r":37,"region":"Sur"},{"c":4,"r":37,"region":"Sur"},{"c":5,"r":37,"region":"Sur"},{"c":6,"r":37,"region":"Sur"},{"c":7,"r":37,"region":"Sur"},{"c":8,"r":37,"region":"Sur"},{"c":9,"r":37,"region":"Sur"},{"c":10,"r":37,"region":"THC"},{"c":11,"r":37,"region":"THC"},{"c":12,"r":37,"region":"THC"},{"c":13,"r":37,"region":"THC"},{"c":14,"r":37,"region":"THC"},{"c":15,"r":37,"region":"THC"},{"c":16,"r":37,"region":"THC"},{"c":17,"r":37,"region":"THC"},{"c":18,"r":37,"region":"THC"},{"c":19,"r":37,"region":"THC"},{"c":20,"r":37,"region":"THC"},{"c":21,"r":37,"region":"THC"},{"c":22,"r":37,"region":"Guaviare"},{"c":23,"r":37,"region":"Guaviare"},{"c":24,"r":37,"region":"Guaviare"},{"c":25,"r":37,"region":"Guaviare"},{"c":26,"r":37,"region":"Guaviare"},{"c":27,"r":37,"region":"Guaviare"},{"c":28,"r":37,"region":"Guaviare"},{"c":29,"r":37,"region":"Guaviare"},{"c":30,"r":37,"region":"Guaviare"},{"c":31,"r":37,"region":"Guaviare"},
{"c":5,"r":38,"region":"Sur"},{"c":6,"r":38,"region":"Sur"},{"c":7,"r":38,"region":"Sur"},{"c":8,"r":38,"region":"Sur"},{"c":9,"r":38,"region":"Sur"},{"c":10,"r":38,"region":"Sur"},{"c":11,"r":38,"region":"Sur"},{"c":12,"r":38,"region":"THC"},{"c":13,"r":38,"region":"THC"},{"c":14,"r":38,"region":"THC"},{"c":15,"r":38,"region":"THC"},{"c":16,"r":38,"region":"THC"},{"c":17,"r":38,"region":"THC"},{"c":18,"r":38,"region":"THC"},{"c":19,"r":38,"region":"THC"},{"c":20,"r":38,"region":"THC"},{"c":21,"r":38,"region":"THC"},{"c":22,"r":38,"region":"THC"},{"c":23,"r":38,"region":"Guaviare"},{"c":24,"r":38,"region":"Guaviare"},{"c":25,"r":38,"region":"Guaviare"},{"c":26,"r":38,"region":"Guaviare"},{"c":27,"r":38,"region":"Guaviare"},{"c":28,"r":38,"region":"Guaviare"},{"c":29,"r":38,"region":"Guaviare"},
{"c":6,"r":39,"region":"Sur"},{"c":7,"r":39,"region":"Sur"},{"c":10,"r":39,"region":"Sur"},{"c":11,"r":39,"region":"Sur"},{"c":12,"r":39,"region":"Sur"},{"c":13,"r":39,"region":"THC"},{"c":14,"r":39,"region":"THC"},{"c":15,"r":39,"region":"THC"},{"c":16,"r":39,"region":"THC"},{"c":17,"r":39,"region":"THC"},{"c":18,"r":39,"region":"THC"},{"c":19,"r":39,"region":"THC"},{"c":20,"r":39,"region":"THC"},{"c":21,"r":39,"region":"THC"},{"c":22,"r":39,"region":"THC"},{"c":23,"r":39,"region":"THC"},{"c":24,"r":39,"region":"Guaviare"},{"c":25,"r":39,"region":"Guaviare"},{"c":26,"r":39,"region":"Guaviare"},{"c":27,"r":39,"region":"Guaviare"},{"c":28,"r":39,"region":"Guaviare"},
{"c":11,"r":40,"region":"Sur"},{"c":12,"r":40,"region":"Sur"},{"c":13,"r":40,"region":"Sur"},{"c":14,"r":40,"region":"THC"},{"c":15,"r":40,"region":"THC"},{"c":16,"r":40,"region":"THC"},{"c":17,"r":40,"region":"THC"},{"c":18,"r":40,"region":"THC"},{"c":19,"r":40,"region":"THC"},{"c":20,"r":40,"region":"THC"},{"c":21,"r":40,"region":"THC"},{"c":22,"r":40,"region":"THC"},{"c":23,"r":40,"region":"THC"},{"c":24,"r":40,"region":"Guaviare"},{"c":25,"r":40,"region":"Guaviare"},{"c":26,"r":40,"region":"Guaviare"},{"c":27,"r":40,"region":"Guaviare"},{"c":28,"r":40,"region":"Guaviare"},
{"c":14,"r":41,"region":"Sur"},{"c":15,"r":41,"region":"Sur"},{"c":16,"r":41,"region":"THC"},{"c":17,"r":41,"region":"THC"},{"c":18,"r":41,"region":"THC"},{"c":19,"r":41,"region":"THC"},{"c":20,"r":41,"region":"THC"},{"c":21,"r":41,"region":"THC"},{"c":22,"r":41,"region":"Guaviare"},{"c":23,"r":41,"region":"Guaviare"},{"c":24,"r":41,"region":"Guaviare"},{"c":25,"r":41,"region":"Guaviare"},{"c":26,"r":41,"region":"Guaviare"},{"c":27,"r":41,"region":"Guaviare"},{"c":28,"r":41,"region":"Guaviare"},{"c":29,"r":41,"region":"Guaviare"},
{"c":15,"r":42,"region":"Guaviare"},{"c":16,"r":42,"region":"Guaviare"},{"c":17,"r":42,"region":"Guaviare"},{"c":18,"r":42,"region":"Guaviare"},{"c":19,"r":42,"region":"Guaviare"},{"c":20,"r":42,"region":"Guaviare"},{"c":21,"r":42,"region":"Guaviare"},{"c":22,"r":42,"region":"Guaviare"},{"c":23,"r":42,"region":"Guaviare"},{"c":24,"r":42,"region":"Guaviare"},{"c":25,"r":42,"region":"Guaviare"},{"c":26,"r":42,"region":"Guaviare"},{"c":27,"r":42,"region":"Guaviare"},{"c":28,"r":42,"region":"Guaviare"},{"c":29,"r":42,"region":"Guaviare"},{"c":30,"r":42,"region":"Guaviare"},
{"c":15,"r":43,"region":"Guaviare"},{"c":16,"r":43,"region":"Guaviare"},{"c":17,"r":43,"region":"Guaviare"},{"c":18,"r":43,"region":"Guaviare"},{"c":19,"r":43,"region":"Guaviare"},{"c":20,"r":43,"region":"Guaviare"},{"c":21,"r":43,"region":"Guaviare"},{"c":22,"r":43,"region":"Guaviare"},{"c":23,"r":43,"region":"Guaviare"},{"c":24,"r":43,"region":"Guaviare"},{"c":25,"r":43,"region":"Guaviare"},{"c":26,"r":43,"region":"Guaviare"},{"c":27,"r":43,"region":"Guaviare"},{"c":28,"r":43,"region":"Guaviare"},{"c":29,"r":43,"region":"Guaviare"},{"c":30,"r":43,"region":"Guaviare"},
{"c":17,"r":44,"region":"Guaviare"},{"c":18,"r":44,"region":"Guaviare"},{"c":19,"r":44,"region":"Guaviare"},{"c":20,"r":44,"region":"Guaviare"},{"c":21,"r":44,"region":"Guaviare"},{"c":22,"r":44,"region":"Guaviare"},{"c":23,"r":44,"region":"Guaviare"},{"c":24,"r":44,"region":"Guaviare"},{"c":25,"r":44,"region":"Guaviare"},{"c":26,"r":44,"region":"Guaviare"},{"c":27,"r":44,"region":"Guaviare"},{"c":28,"r":44,"region":"Guaviare"},{"c":29,"r":44,"region":"Guaviare"},{"c":30,"r":44,"region":"Guaviare"},
{"c":18,"r":45,"region":"Guaviare"},{"c":19,"r":45,"region":"Guaviare"},{"c":20,"r":45,"region":"Guaviare"},{"c":21,"r":45,"region":"Guaviare"},{"c":22,"r":45,"region":"Guaviare"},{"c":23,"r":45,"region":"Guaviare"},{"c":24,"r":45,"region":"Guaviare"},{"c":25,"r":45,"region":"Guaviare"},{"c":26,"r":45,"region":"Guaviare"},{"c":27,"r":45,"region":"Guaviare"},{"c":28,"r":45,"region":"Guaviare"},{"c":29,"r":45,"region":"Guaviare"},{"c":30,"r":45,"region":"Guaviare"},
{"c":19,"r":46,"region":"Guaviare"},{"c":20,"r":46,"region":"Guaviare"},{"c":21,"r":46,"region":"Guaviare"},{"c":22,"r":46,"region":"Guaviare"},{"c":23,"r":46,"region":"Guaviare"},{"c":24,"r":46,"region":"Guaviare"},{"c":25,"r":46,"region":"Guaviare"},{"c":26,"r":46,"region":"Guaviare"},{"c":27,"r":46,"region":"Guaviare"},{"c":28,"r":46,"region":"Guaviare"},{"c":29,"r":46,"region":"Guaviare"},{"c":30,"r":46,"region":"Guaviare"},
{"c":19,"r":47,"region":"Guaviare"},{"c":20,"r":47,"region":"Guaviare"},{"c":21,"r":47,"region":"Guaviare"},{"c":22,"r":47,"region":"Guaviare"},{"c":23,"r":47,"region":"Guaviare"},{"c":24,"r":47,"region":"Guaviare"},{"c":25,"r":47,"region":"Guaviare"},{"c":26,"r":47,"region":"Guaviare"},{"c":27,"r":47,"region":"Guaviare"},{"c":28,"r":47,"region":"Guaviare"},{"c":29,"r":47,"region":"Guaviare"},{"c":30,"r":47,"region":"Guaviare"},
{"c":28,"r":48,"region":"Guaviare"},{"c":29,"r":48,"region":"Guaviare"},{"c":29,"r":49,"region":"Guaviare"},{"c":28,"r":50,"region":"Guaviare"},{"c":29,"r":50,"region":"Guaviare"},{"c":28,"r":51,"region":"Guaviare"},{"c":29,"r":51,"region":"Guaviare"},{"c":27,"r":52,"region":"Guaviare"},{"c":28,"r":52,"region":"Guaviare"},{"c":29,"r":52,"region":"Guaviare"},{"c":29,"r":53,"region":"Guaviare"}
]
},
"encoding":{"color":{"field":"region","type":"nominal","legend":null,"scale":{"domain":["Caribe","Antioquia","Oriente","Centro","Chocó","CQR","Valle","Guaviare","THC","Sur"],"range":["#52AEC7","#6AAD55","#FF8C4C","#FFC94D","#9E9E9E","#4A55B2","#9AD96B","#E6E6E6","#BD55AD","#3F7A62"]}}},
"resolve":{"scale":{"x":"independent","y":"independent"}},
"layer":[
{"encoding":{"x":{"field":"x","type":"quantitative","axis":null,"scale":{"domain":[0,1855],"nice":false,"zero":false}},"y":{"field":"y","type":"quantitative","axis":null,"scale":{"domain":[967,0],"nice":false,"zero":false}},"x2":{"field":"x2"},"y2":{"field":"y2"}},
"layer":[
{"data":{"name":"blocks"},"mark":{"type":"rect"},"encoding":{"color":{"value":"#f7f7f7"}}},
{"data":{"name":"shadows"},"mark":{"type":"rect","cornerRadius":16,"opacity":0.07},"encoding":{"color":{"value":"#333333"}}},
{"data":{"name":"cards"},"mark":{"type":"rect","cornerRadius":15},"encoding":{"color":{"value":"#ffffff"}}},
{"data":{"name":"dateBoxes"},"mark":{"type":"rect","strokeWidth":1.5,"stroke":"#eeeeee"},"encoding":{"color":{"value":"#ffffff"}}},
{"data":{"name":"headers"},"mark":{"type":"rect"}},
{"data":{"name":"separators"},"mark":{"type":"rule","strokeWidth":1,"opacity":0.15},"encoding":{"x2":null,"color":{"value":"#ffffff"}}},
{"data":{"values":[{"x":1661,"x2":1848,"y":381}]},"mark":{"type":"rule","strokeWidth":1},"encoding":{"y2":null,"color":{"value":"#e6e6e6"}}}
]},
{"data":{"name":"dots"},"mark":{"type":"point","filled":true,"size":60,"opacity":1},"encoding":{"x":{"field":"c","type":"quantitative","axis":null,"scale":{"domain":[-58.677,88.545],"nice":false,"zero":false}},"y":{"field":"r","type":"quantitative","axis":null,"scale":{"domain":[54.312,-22.617],"nice":false,"zero":false}}}},
{"encoding":{"x":{"field":"x","type":"quantitative","axis":null,"scale":{"domain":[0,1855],"nice":false,"zero":false}},"y":{"field":"y","type":"quantitative","axis":null,"scale":{"domain":[967,0],"nice":false,"zero":false}}},
"layer":[
{"data":{"name":"leaders"},"mark":{"type":"line","strokeWidth":2,"opacity":0.75},"encoding":{"order":{"field":"i","type":"quantitative"},"detail":{"field":"region"}}},
{"data":{"name":"leaders"},"transform":[{"filter":"datum.i == 0"}],"mark":{"type":"point","filled":true,"size":75,"opacity":1}},
{"data":{"name":"cells"},"mark":{"type":"text","fontSize":23.5,"align":"center","baseline":"middle","font":"DejaVu Sans Condensed"},"encoding":{"text":{"field":"t"},"color":{"value":"#333333"}}},
{"data":{"name":"purple"},"mark":{"type":"text","fontSize":30.2,"align":"center","baseline":"middle","font":"DejaVu Sans Condensed"},"encoding":{"text":{"field":"t"},"color":{"value":"#4B0A9A"}}},
{"data":{"name":"kpis"},"mark":{"type":"text","fontSize":31.5,"align":"center","baseline":"middle","font":"DejaVu Sans Condensed"},"encoding":{"text":{"field":"t"},"color":{"value":"#4B0A9A"}}},
{"data":{"values":[{"x":353.5,"y":114}]},"mark":{"type":"point","size":520,"strokeWidth":4.5,"filled":false,"opacity":1},"encoding":{"color":{"value":"#666666"}}},
{"data":{"values":[{"t":"?","x":353.5,"y":114}]},"mark":{"type":"text","fontSize":21,"fontWeight":"bold","align":"center","baseline":"middle","font":"DejaVu Sans"},"encoding":{"text":{"field":"t"},"color":{"value":"#666666"}}}
]}
]}
